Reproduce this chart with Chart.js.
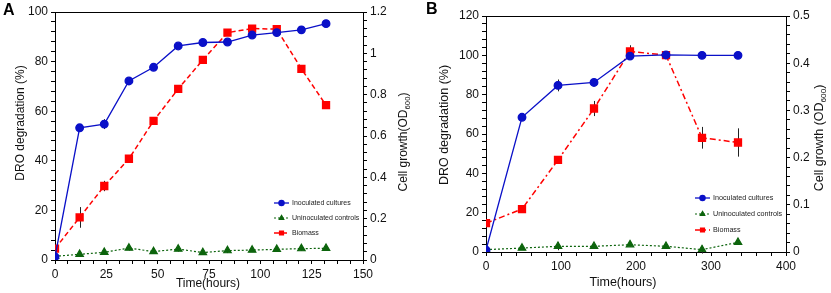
<!DOCTYPE html>
<html>
<head>
<meta charset="utf-8">
<script src="https://cdn.jsdelivr.net/npm/chart.js@4.4.1/dist/chart.umd.min.js"></script>
<style>
  html, body { margin: 0; padding: 0; background: #fff; }
  #wrap { position: relative; width: 831px; height: 293px; }
  .panel { position: absolute; top: 0; height: 293px; }
  .tag { position: absolute; font: bold 16px "Liberation Sans", Arial, sans-serif; color: #000; }
</style>
</head>
<body>
<div id="wrap">
  <div class="panel" style="left:0;width:415px"><canvas id="chartA"></canvas></div>
  <div class="panel" style="left:415px;width:416px"><canvas id="chartB"></canvas></div>
  <div class="tag" style="left:3px;top:1px">A</div>
  <div class="tag" style="left:426px;top:0px">B</div>
</div>
<script>
// Panel A (hours)
const timeA = [0, 12, 24, 36, 48, 60, 72, 84, 96, 108, 120, 132];
const inocA = [1.3, 53.3, 54.8, 72.2, 77.7, 86.3, 87.7, 87.9, 90.7, 91.7, 92.8, 95.3];
const inocErrA = [0.5, 1, 2, 1.5, 0.8, 1, 0.8, 0.8, 0.8, 0.6, 0.6, 0.6];
const uninocA = [1.5, 2.3, 3.1, 4.8, 3.4, 4.4, 3.0, 3.8, 4.0, 4.3, 4.6, 4.7];
const uninocErrA = [0.5, 0.8, 0.8, 1, 0.8, 1, 0.8, 1, 0.8, 0.8, 0.8, 1];
const bioA = [0.055, 0.206, 0.358, 0.49, 0.673, 0.828, 0.968, 1.10, 1.12, 1.117, 0.925, 0.749];
const bioErrA = [0.005, 0.05, 0.025, 0.012, 0.01, 0.01, 0.01, 0.01, 0.01, 0.01, 0.01, 0.015];

// Panel B (hours)
const timeB = [0, 48, 96, 144, 192, 240, 288, 336];
const inocB = [1, 68.5, 84.7, 86.2, 99.6, 100.2, 100, 100];
const inocErrB = [0.5, 1, 3, 1, 1, 1.5, 0.5, 0.5];
const uninocB = [1.2, 2.0, 2.9, 2.9, 3.7, 2.9, 1.2, 4.9];
const uninocErrB = [0.5, 0.5, 2, 0.8, 0.8, 0.8, 2, 0.8];
const bioB = [0.061, 0.091, 0.195, 0.304, 0.425, 0.417, 0.242, 0.232];
const bioErrB = [0.003, 0.003, 0.004, 0.016, 0.013, 0.008, 0.023, 0.03];

const legendLabels = ['Inoculated cultures', 'Uninoculated controls', 'Biomass'];

const FONT = '"Liberation Sans", Arial, sans-serif';
const BLUE = '#0a10c8';
const GREEN = '#0c640c';
const RED = '#ff0000';

function pts(xs, ys) {
  return xs.map((x, i) => ({ x: x, y: ys[i] }));
}

function isMajor(v, m) {
  return Math.abs(v / m - Math.round(v / m)) < 1e-6;
}

// vertical error bars, drawn under the markers
const errorBars = {
  id: 'errorBars',
  beforeDatasetsDraw(chart) {
    const ctx = chart.ctx;
    ctx.save();
    ctx.strokeStyle = '#222';
    ctx.lineWidth = 1;
    chart.data.datasets.forEach(ds => {
      if (!ds.errors) return;
      const xs = chart.scales.x, ys = chart.scales[ds.yAxisID];
      ds.data.forEach((p, j) => {
        const e = ds.errors[j];
        if (!e) return;
        const px = Math.round(xs.getPixelForValue(p.x)) + 0.5;
        ctx.beginPath();
        ctx.moveTo(px, ys.getPixelForValue(p.y - e));
        ctx.lineTo(px, ys.getPixelForValue(p.y + e));
        ctx.stroke();
      });
    });
    ctx.restore();
  }
};

// frame top, axis titles and the small legend inside the plot
const decor = {
  id: 'decor',
  afterDraw(chart, args, o) {
    const ctx = chart.ctx, a = chart.chartArea;
    ctx.save();
    ctx.strokeStyle = '#000';
    ctx.lineWidth = 1;
    ctx.beginPath();
    ctx.moveTo(a.left, a.top + 0.5);
    ctx.lineTo(a.right, a.top + 0.5);
    ctx.stroke();

    ctx.fillStyle = '#111';
    ctx.textBaseline = 'middle';
    ctx.font = o.titleSize + 'px ' + FONT;
    ctx.textAlign = 'center';
    ctx.fillText(o.xTitle, o.xPos[0], o.xPos[1]);

    ctx.save();
    ctx.translate(o.leftPos[0], o.leftPos[1]);
    ctx.rotate(-Math.PI / 2);
    ctx.fillText(o.leftTitle, 0, 0);
    ctx.restore();

    // right title with subscript
    const big = o.titleSize + 'px ' + FONT;
    const small = (o.titleSize * 0.65) + 'px ' + FONT;
    ctx.font = big;
    const w1 = ctx.measureText(o.rightTitle).width;
    const w3 = ctx.measureText(')').width;
    ctx.font = small;
    const w2 = ctx.measureText(o.rightSub).width;
    ctx.save();
    ctx.translate(o.rightPos[0], o.rightPos[1]);
    ctx.rotate(-Math.PI / 2);
    ctx.textAlign = 'left';
    let x0 = -(w1 + w2 + w3) / 2;
    ctx.font = big;
    ctx.fillText(o.rightTitle, x0, 0);
    ctx.font = small;
    ctx.fillText(o.rightSub, x0 + w1, o.titleSize * 0.3);
    ctx.font = big;
    ctx.fillText(')', x0 + w1 + w2, 0);
    ctx.restore();

    // legend
    ctx.font = o.legendSize + 'px ' + FONT;
    ctx.textAlign = 'left';
    chart.data.datasets.forEach((ds, i) => {
      const y = o.legendY + i * o.legendGap;
      const x = o.legendX;
      ctx.strokeStyle = ds.borderColor;
      ctx.lineWidth = ds.borderWidth;
      ctx.setLineDash(ds.borderDash || []);
      ctx.beginPath();
      ctx.moveTo(x, y);
      ctx.lineTo(x + 15, y);
      ctx.stroke();
      ctx.setLineDash([]);
      ctx.fillStyle = ds.pointBackgroundColor;
      ctx.strokeStyle = ds.pointBorderColor;
      Chart.helpers.drawPoint(ctx, { pointStyle: ds.pointStyle, radius: 2.6, rotation: 0, borderWidth: 1 }, x + 7.5, y);
      ctx.fillStyle = '#222';
      ctx.fillText(legendLabels[i], x + 18, y);
    });
    ctx.restore();
  }
};

function axisCommon(fit) {
  return {
    border: { display: true, color: '#000', width: 1 },
    grid: { drawOnChartArea: false, drawTicks: true, tickLength: 4, tickColor: '#000' },
    afterFit: fit
  };
}

function makeChart(id, o) {
  const tickFont = { family: FONT, size: o.tickSize };
  return new Chart(document.getElementById(id), {
    type: 'line',
    data: {
      datasets: [
        {
          label: legendLabels[0], data: pts(o.time, o.inoc), errors: o.inocErr, yAxisID: 'y',
          borderColor: BLUE, backgroundColor: BLUE, pointBackgroundColor: BLUE, pointBorderColor: BLUE,
          borderWidth: 1.3, pointStyle: 'circle', pointRadius: 3.8, tension: 0
        },
        {
          label: legendLabels[1], data: pts(o.time, o.uninoc), errors: o.uninocErr, yAxisID: 'y',
          borderColor: GREEN, backgroundColor: GREEN, pointBackgroundColor: GREEN, pointBorderColor: GREEN,
          borderWidth: 1.2, borderDash: [2, 2], pointStyle: 'triangle', pointRadius: 4.3, tension: 0
        },
        {
          label: legendLabels[2], data: pts(o.time, o.bio), errors: o.bioErr, yAxisID: 'y1',
          borderColor: RED, backgroundColor: RED, pointBackgroundColor: RED, pointBorderColor: RED,
          borderWidth: 1.5, borderDash: o.bioDash, pointStyle: 'rect', pointRadius: 4.8, tension: 0
        }
      ]
    },
    options: {
      responsive: true,
      maintainAspectRatio: false,
      animation: false,
      layout: { padding: { top: o.top, left: 0, right: 0, bottom: 0 } },
      plugins: {
        legend: { display: false },
        tooltip: { enabled: false },
        decor: o.decor
      },
      scales: {
        x: Object.assign(axisCommon(s => { s.height = o.xHeight; }), {
          type: 'linear', min: 0, max: o.xMax,
          ticks: {
            stepSize: o.xMinor, autoSkip: false, maxRotation: 0, padding: o.xPad,
            color: '#111', font: tickFont,
            callback: v => isMajor(v, o.xMajor) ? String(v) : ''
          }
        }),
        y: Object.assign(axisCommon(s => { s.width = o.leftW; }), {
          position: 'left', min: 0, max: o.yMax,
          ticks: {
            stepSize: 4, autoSkip: false, padding: 3, color: '#111', font: tickFont,
            callback: v => isMajor(v, 20) ? String(v) : ''
          }
        }),
        y1: Object.assign(axisCommon(s => { s.width = o.rightW; }), {
          position: 'right', min: 0, max: o.y1Max,
          ticks: {
            stepSize: o.y1Minor, autoSkip: false, padding: 3, color: '#111', font: tickFont,
            callback: v => isMajor(v, o.y1Major) ? String(Number(v.toFixed(2))) : ''
          }
        })
      }
    },
    plugins: [errorBars, decor]
  });
}

makeChart('chartA', {
  time: timeA, inoc: inocA, inocErr: inocErrA, uninoc: uninocA, uninocErr: uninocErrA,
  bio: bioA, bioErr: bioErrA, bioDash: [5, 3],
  xMax: 150, xMinor: 6.25, xMajor: 25, yMax: 100, y1Max: 1.2, y1Minor: 0.04, y1Major: 0.2,
  top: 12, xHeight: 33, leftW: 55, rightW: 52, xPad: 3, tickSize: 12,
  decor: {
    titleSize: 12, xTitle: 'Time(hours)', xPos: [208, 284],
    leftTitle: 'DRO degradation (%)', leftPos: [21, 123],
    rightTitle: 'Cell growth(OD', rightSub: '600', rightPos: [404, 142],
    legendSize: 7, legendX: 274, legendY: 203, legendGap: 15
  }
});

makeChart('chartB', {
  time: timeB, inoc: inocB, inocErr: inocErrB, uninoc: uninocB, uninocErr: uninocErrB,
  bio: bioB, bioErr: bioErrB, bioDash: [6, 3, 2, 3],
  xMax: 400, xMinor: 20, xMajor: 100, yMax: 120, y1Max: 0.5, y1Minor: 0.02, y1Major: 0.1,
  top: 16, xHeight: 41, leftW: 71, rightW: 45, xPad: 3, tickSize: 12,
  decor: {
    titleSize: 12.5, xTitle: 'Time(hours)', xPos: [208, 283],
    leftTitle: 'DRO degradation (%)', leftPos: [30, 125],
    rightTitle: 'Cell growth (OD', rightSub: '600', rightPos: [405, 138],
    legendSize: 7.2, legendX: 280, legendY: 198, legendGap: 16
  }
});
</script>
</body>
</html>
